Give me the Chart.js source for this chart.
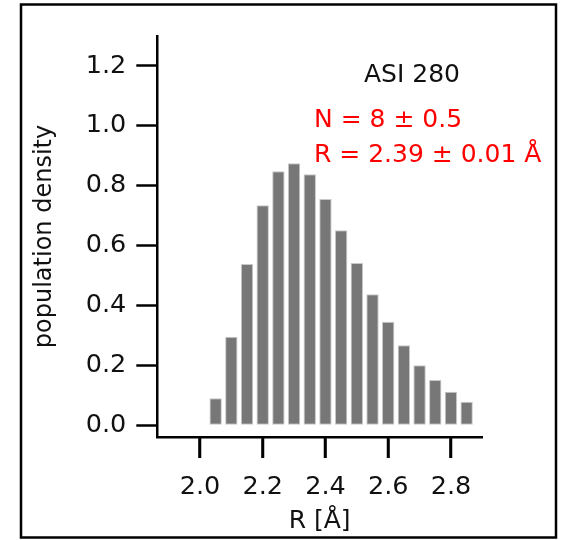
<!DOCTYPE html>
<html>
<head>
<meta charset="utf-8">
<script src="https://cdn.jsdelivr.net/npm/chart.js@4/dist/chart.umd.min.js"></script>
<style>
  html, body { margin: 0; padding: 0; background: #fff; }
  canvas { display: block; }
</style>
</head>
<body>
<canvas id="mainPlot" width="561" height="540"></canvas>
<script>
// histogram data (bin centres in Angstrom, population density)
const binCenters = [2.05, 2.10, 2.15, 2.20, 2.25, 2.30, 2.35, 2.40, 2.45, 2.50, 2.55, 2.60, 2.65, 2.70, 2.75, 2.80, 2.85];
const density = [0.090, 0.296, 0.539, 0.735, 0.848, 0.875, 0.838, 0.756, 0.651, 0.542, 0.438, 0.346, 0.267, 0.201, 0.151, 0.112, 0.079];

// axis ticks
const xTicks = [2.0, 2.2, 2.4, 2.6, 2.8];
const yTicks = [0.0, 0.2, 0.4, 0.6, 0.8, 1.0, 1.2];

// annotation text
const sampleLabel = "ASI 280";
const fitLines = ["N = 8 \u00b1 0.5", "R = 2.39 \u00b1 0.01 \u00c5"];

const fontFamily = "'DejaVu Sans', sans-serif";
const tickLen = 21;

// draws the outer frame, the x tick marks and the text annotations
const framePlugin = {
  id: "frame",
  afterDraw(chart) {
    const ctx = chart.ctx;
    const xScale = chart.scales.x;
    ctx.save();
    ctx.setLineDash([]);
    ctx.globalAlpha = 1;
    ctx.strokeStyle = "#000";
    ctx.lineWidth = 2.5;
    ctx.strokeRect(21, 4.5, 535, 533);

    // x tick marks hanging below the axis line
    const axisY = xScale.top;
    ctx.fillStyle = "#000";
    xTicks.forEach((v) => {
      const px = xScale.getPixelForValue(v);
      ctx.fillRect(Math.round(px) - 1.25, axisY, 2.5, tickLen);
    });

    ctx.textAlign = "left";
    ctx.textBaseline = "alphabetic";
    ctx.fillStyle = "#111";
    ctx.font = "25px " + fontFamily;
    ctx.fillText(sampleLabel, 364, 81.5);

    ctx.fillStyle = "#ff0000";
    ctx.fillText(fitLines[0], 314, 126.5);
    ctx.fillText(fitLines[1], 314, 161.5);
    ctx.restore();
  }
};

const mainChart = new Chart(document.getElementById("mainPlot"), {
  type: "bar",
  data: {
    datasets: [
      {
        label: "population density",
        data: binCenters.map((x, i) => ({ x: x, y: density[i] })),
        backgroundColor: "#777777",
        borderColor: "#c9c9c9",
        borderWidth: 1,
        borderSkipped: false,
        barPercentage: 0.79,
        categoryPercentage: 1.0,
      },
    ],
  },
  options: {
    responsive: false,
    animation: false,
    events: [],
    layout: {
      padding: { left: 0, top: 36, right: 79, bottom: 0 },
    },
    scales: {
      x: {
        type: "linear",
        min: 1.864,
        max: 2.899,
        offset: false,
        afterFit: (scale) => { scale.height = 103; },
        afterBuildTicks: (scale) => { scale.ticks = xTicks.map(v => ({ value: v })); },
        border: { color: "#000", width: 2.5 },
        grid: {
          offset: false,
          drawOnChartArea: false,
          tickLength: tickLen,
          tickWidth: 2.5,
          tickColor: "#000",
        },
        ticks: {
          padding: 14,
          color: "#111",
          font: { family: fontFamily, size: 25.5 },
          callback: (val) => val.toFixed(1),
        },
        title: {
          display: true,
          text: "R [\u00c5]",
          color: "#111",
          font: { family: fontFamily, size: 25 },
          padding: { top: 0, bottom: 3.6 },
        },
      },
      y: {
        min: -0.039,
        max: 1.30,
        afterFit: (scale) => { scale.width = 157.3; },
        afterBuildTicks: (scale) => { scale.ticks = yTicks.map(v => ({ value: v })); },
        border: { color: "#000", width: 2.5 },
        grid: {
          drawOnChartArea: false,
          tickLength: tickLen,
          tickWidth: 2.5,
          tickColor: "#000",
        },
        ticks: {
          padding: 10,
          color: "#111",
          font: { family: fontFamily, size: 25.5 },
          callback: (val) => val.toFixed(1),
        },
        title: {
          display: true,
          text: "population density",
          color: "#111",
          font: { family: fontFamily, size: 24 },
          padding: { top: 30.4, bottom: 0 },
        },
      },
    },
    plugins: {
      legend: { display: false },
      tooltip: { enabled: false },
    },
  },
  plugins: [framePlugin],
});
</script>
</body>
</html>
